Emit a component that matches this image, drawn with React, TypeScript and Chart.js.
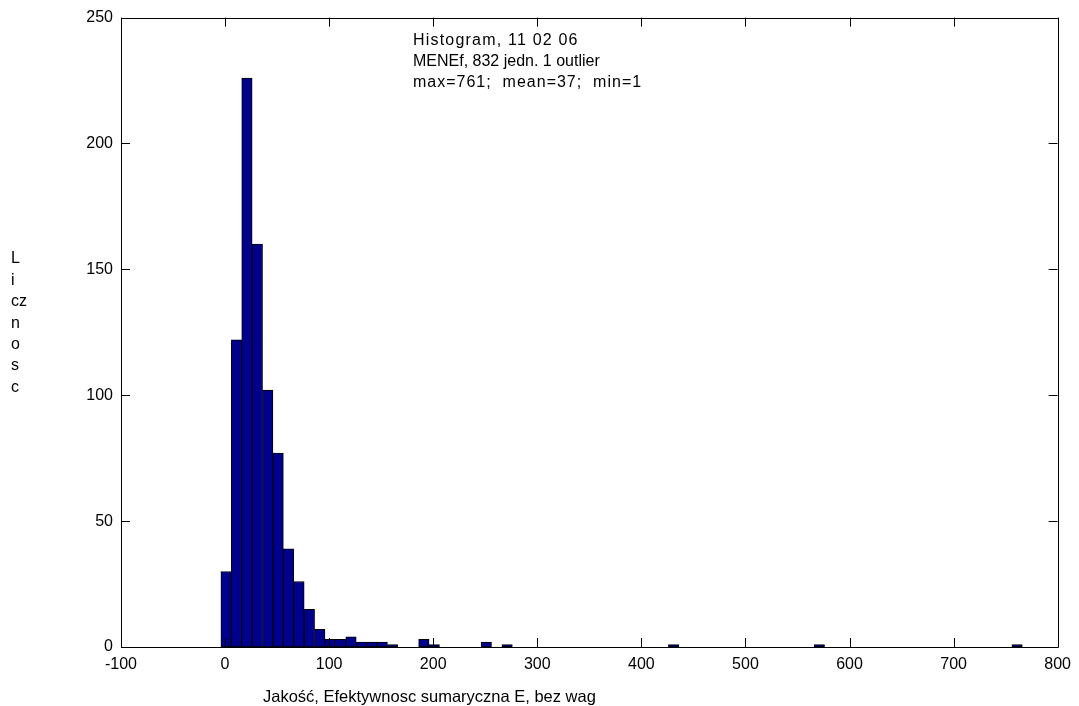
import React, { useEffect, useRef } from "react";
import { Chart, registerables } from "chart.js";

Chart.register(...registerables);

// Histogram bins: centers at 1 + 10k (k = 0..76), width 10
const binCenters: number[] = Array.from({ length: 77 }, (_, k) => 1 + 10 * k);
const counts: number[] = [
  30, 122, 226, 160, 102, 77, 39, 26, 15, 7,
  3, 3, 4, 2, 2, 2, 1, 0, 0, 3,
  1, 0, 0, 0, 0, 2, 0, 1, 0, 0,
  0, 0, 0, 0, 0, 0, 0, 0, 0, 0,
  0, 0, 0, 1, 0, 0, 0, 0, 0, 0,
  0, 0, 0, 0, 0, 0, 0, 1, 0, 0,
  0, 0, 0, 0, 0, 0, 0, 0, 0, 0,
  0, 0, 0, 0, 0, 0, 1,
];
const xTicks: number[] = [-100, 0, 100, 200, 300, 400, 500, 600, 700, 800];
const yTicks: number[] = [0, 50, 100, 150, 200, 250];
const annotationLines: string[] = [
  "Histogram, 11 02 06",
  "MENEf, 832 jedn. 1 outlier",
  "max=761;  mean=37;  min=1",
];
const annotationSpacing: number[] = [1.2, 0, 1];
const yLabelLines: string[] = ["L", "i", "cz", "n", "o", "s", "c"];
const xLabel = "Jakość, Efektywnosc sumaryczna E, bez wag";

const FONT = '"Liberation Sans", Arial, sans-serif';
const FS = 16;

const framePlugin = {
  id: "matlabFrame",
  afterDraw(chart: any) {
    const ctx = chart.ctx;
    const { left, right, top, bottom } = chart.chartArea;
    const xs = chart.scales.x;
    const ys = chart.scales.y;
    ctx.save();
    ctx.strokeStyle = "#000";
    ctx.lineWidth = 1;
    ctx.beginPath();
    ctx.rect(Math.round(left) + 0.5, Math.round(top) + 0.5, Math.round(right - left), Math.round(bottom - top));
    ctx.stroke();
    const tl = 9;
    ctx.beginPath();
    xTicks.forEach((v) => {
      const px = Math.round(xs.getPixelForValue(v)) + 0.5;
      ctx.moveTo(px, bottom);
      ctx.lineTo(px, bottom - tl);
      ctx.moveTo(px, top);
      ctx.lineTo(px, top + tl);
    });
    yTicks.forEach((v) => {
      const py = Math.round(ys.getPixelForValue(v)) + 0.5;
      ctx.moveTo(left, py);
      ctx.lineTo(left + tl, py);
      ctx.moveTo(right, py);
      ctx.lineTo(right - tl, py);
    });
    ctx.stroke();

    ctx.fillStyle = "#000";
    ctx.font = `${FS}px ${FONT}`;
    ctx.textAlign = "left";
    ctx.textBaseline = "middle";
    annotationLines.forEach((t, i) => {
      (ctx as any).letterSpacing = `${annotationSpacing[i]}px`;
      ctx.fillText(t, 413, 41 + i * 21);
    });
    (ctx as any).letterSpacing = "0px";
    yLabelLines.forEach((t, i) => {
      ctx.fillText(t, 11, 259 + i * 21.4);
    });
    ctx.font = `16.5px ${FONT}`;
    ctx.fillText(xLabel, 263, 697);
    ctx.restore();
  },
};

export default function App() {
  const ref = useRef<HTMLCanvasElement | null>(null);
  useEffect(() => {
    if (!ref.current) return;
    const chart = new Chart(ref.current, {
      type: "bar",
      data: {
        datasets: [
          {
            data: binCenters.map((c, i) => ({ x: c, y: counts[i] })),
            backgroundColor: "#00008F",
            borderColor: "#000",
            borderWidth: 1,
            borderSkipped: false,
            barPercentage: 1,
            categoryPercentage: 1,
          },
        ],
      },
      options: {
        animation: false,
        responsive: false,
        layout: { padding: { left: 0, right: 21, top: 15, bottom: 0 } },
        plugins: { legend: { display: false }, tooltip: { enabled: false } },
        scales: {
          x: {
            type: "linear",
            offset: false,
            min: -100,
            max: 800,
            afterBuildTicks: (s: any) => {
              s.ticks = xTicks.map((v) => ({ value: v }));
            },
            afterFit: (s: any) => {
              s.height = 59;
            },
            grid: { display: false, drawTicks: false, offset: false },
            border: { display: false },
            ticks: { color: "#000", font: { family: FONT, size: FS }, padding: 8, maxRotation: 0, autoSkip: false },
          },
          y: {
            type: "linear",
            min: 0,
            max: 250,
            afterBuildTicks: (s: any) => {
              s.ticks = yTicks.map((v) => ({ value: v }));
            },
            afterFit: (s: any) => {
              s.width = 121;
            },
            grid: { display: false, drawTicks: false },
            border: { display: false },
            ticks: { color: "#000", font: { family: FONT, size: FS }, padding: 8 },
          },
        },
      },
      plugins: [framePlugin],
    });
    return () => chart.destroy();
  }, []);
  return (
    <div style={{ position: "fixed", left: 0, top: 0, width: 1079, height: 706, background: "#fff" }}>
      <canvas ref={ref} width={1079} height={706} style={{ width: 1079, height: 706 }} />
    </div>
  );
}
